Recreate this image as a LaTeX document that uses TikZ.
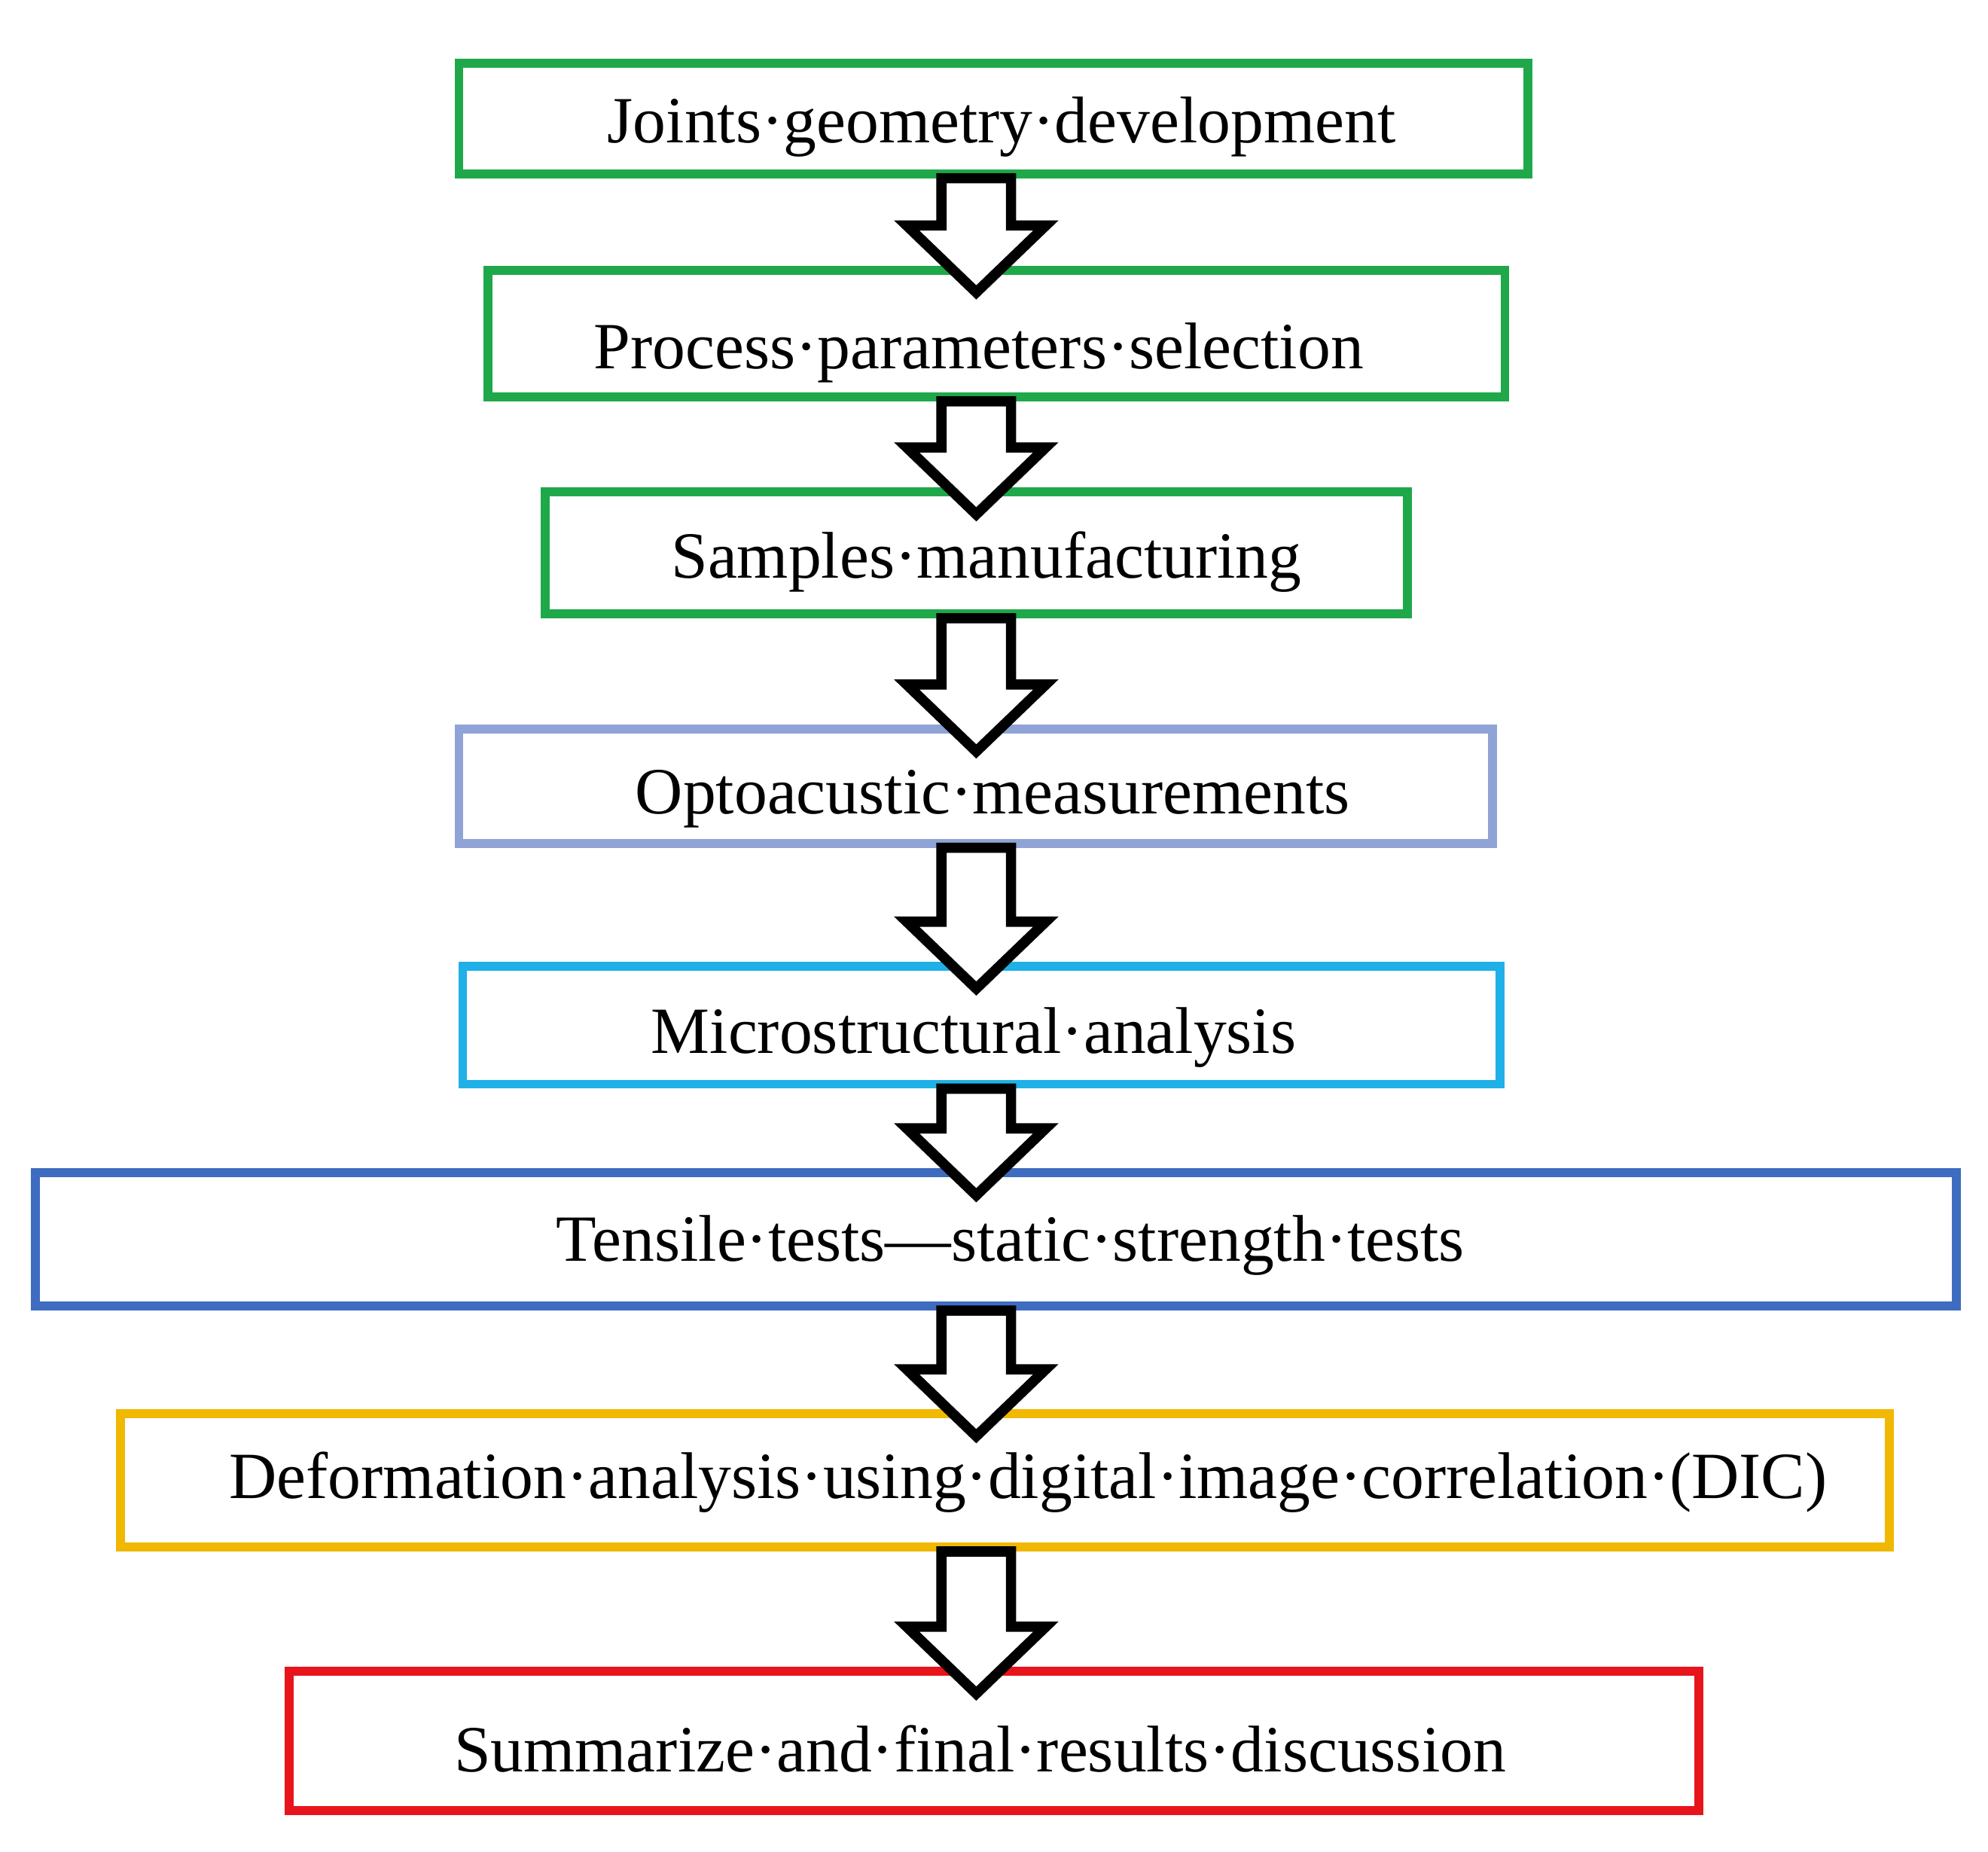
\documentclass[tikz,border=0pt]{standalone}
\usepackage{fontspec}
\setmainfont{Liberation Serif}
\usetikzlibrary{calc}
\definecolor{cg}{HTML}{1FA84A}
\definecolor{cgray}{HTML}{8FA3D6}
\definecolor{ccyan}{HTML}{1FB0E8}
\definecolor{cblue}{HTML}{3E6CC0}
\definecolor{corange}{HTML}{F0B800}
\definecolor{cred}{HTML}{E8141C}
\begin{document}
\begin{tikzpicture}[x=0.01cm,y=-0.01cm,
  box/.style={draw=#1,line width=2pt,fill=white,inner sep=0pt},
  barrow/.style={draw=black,fill=white,line width=2.3pt,line join=miter}]
\useasboundingbox (0,0) rectangle (1568,1460);
\coordinate (cx) at (770,0);
\newcommand\mybox[6]{\node[box=#2,minimum width={(#5-#3)*0.01cm},minimum height={(#6-#4)*0.01cm}] (#1) at ({(#3+#5)/2},{(#4+#6)/2}) {};}
\newcommand\blockarrow[2]{%
 \draw[barrow] let \p1=($(#1.south -| cx)$), \p2=($(#2.north -| cx)$) in
 (\x1-7.8pt,\y1) -- (\x1-7.8pt,\y2+9pt) -- (\x1-15.6pt,\y2+9pt) -- (\x1,\y2-6pt)
 -- (\x1+15.6pt,\y2+9pt) -- (\x1+7.8pt,\y2+9pt) -- (\x1+7.8pt,\y1) -- cycle;}
\mybox{b1}{cg}{362}{50}{1205}{137}
\mybox{b2}{cg}{385}{213}{1187}{313}
\mybox{b3}{cg}{430}{388}{1110}{484}
\mybox{b4}{cgray}{362}{575}{1177}{665}
\mybox{b5}{ccyan}{365}{762}{1183}{855}
\mybox{b6}{cblue}{28}{925}{1543}{1030}
\mybox{b7}{corange}{95}{1115}{1490}{1220}
\mybox{b8}{cred}{228}{1318}{1340}{1428}
\blockarrow{b1}{b2}
\blockarrow{b2}{b3}
\blockarrow{b3}{b4}
\blockarrow{b4}{b5}
\blockarrow{b5}{b6}
\blockarrow{b6}{b7}
\blockarrow{b7}{b8}
\tikzset{t/.style={font=\fontsize{14.8}{18}\selectfont}}
\node[t] at (790,100) {Joints·geometry·development};
\node[t] at (772,278) {Process·parameters·selection};
\node[t] at (778,443) {Samples·manufacturing};
\node[t] at (783,630) {Optoacustic·measurements};
\node[t] at (768,818) {Microstructural·analysis};
\node[t] at (797,982) {Tensile·tests—static·strength·tests};
\node[t] at (811,1169) {Deformation·analysis·using·digital·image·correlation·(DIC)};
\node[t] at (773,1379) {Summarize·and·final·results·discussion};
\end{tikzpicture}
\end{document}
